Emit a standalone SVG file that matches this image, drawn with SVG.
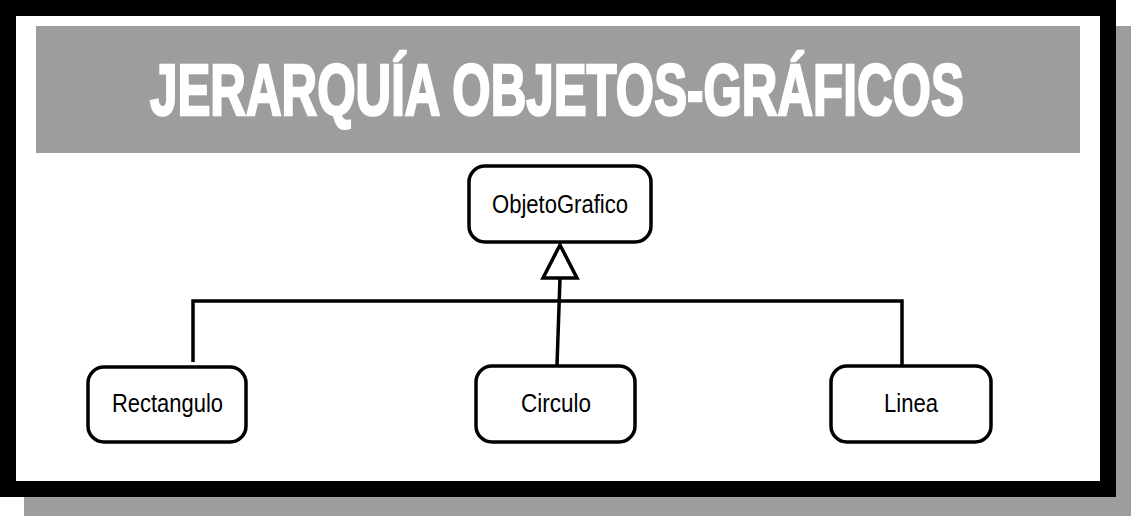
<svg xmlns="http://www.w3.org/2000/svg" width="1134" height="516" viewBox="0 0 1134 516">
<style>
.box{fill:#ffffff;stroke:#000000;stroke-width:3.5}
.lbl{font-family:"Liberation Sans",Arial,sans-serif;font-size:25px;fill:#000000;text-anchor:middle}
.conn{fill:none;stroke:#000000;stroke-width:3.5;stroke-linecap:butt;stroke-linejoin:miter}
.title{font-family:"Liberation Sans",Arial,sans-serif;font-weight:bold;font-size:72px;fill:#ffffff;stroke:#ffffff;stroke-width:2.5}
</style>
<rect width="1134" height="516" fill="#ffffff"/>
<g id="frame">
<rect x="24" y="26" width="1107" height="490" fill="#9e9c9c"/>
<rect x="0" y="0" width="1116" height="497" fill="#000000"/>
<rect x="16" y="16" width="1084" height="465" fill="#ffffff"/>
</g>
<g id="title">
<rect x="36" y="26" width="1044" height="127" fill="#9e9c9c"/>
<text class="title" transform="translate(150,115) scale(0.685,1)" x="0" y="0">JERARQUÍA OBJETOS-GRÁFICOS</text>
</g>
<g id="connectors">
<path class="conn" d="M193,362 V301 H902 V365"/>
<path class="conn" d="M560,278 L557,365"/>
<polygon class="conn" points="560,245 577,278 543,278" style="fill:#ffffff"/>
</g>
<g id="ObjetoGrafico">
<rect class="box" x="469" y="166" width="182" height="76" rx="16"/>
<text class="lbl" x="560" y="213" textLength="136" lengthAdjust="spacingAndGlyphs">ObjetoGrafico</text>
</g>
<g id="Rectangulo">
<rect class="box" x="88" y="367" width="158" height="75" rx="16"/>
<text class="lbl" x="167.5" y="412" textLength="111" lengthAdjust="spacingAndGlyphs">Rectangulo</text>
</g>
<g id="Circulo">
<rect class="box" x="476" y="366" width="159" height="76" rx="16"/>
<text class="lbl" x="556" y="412" textLength="70" lengthAdjust="spacingAndGlyphs">Circulo</text>
</g>
<g id="Linea">
<rect class="box" x="831" y="366" width="160" height="76" rx="16"/>
<text class="lbl" x="911" y="412" textLength="54" lengthAdjust="spacingAndGlyphs">Linea</text>
</g>
</svg>
